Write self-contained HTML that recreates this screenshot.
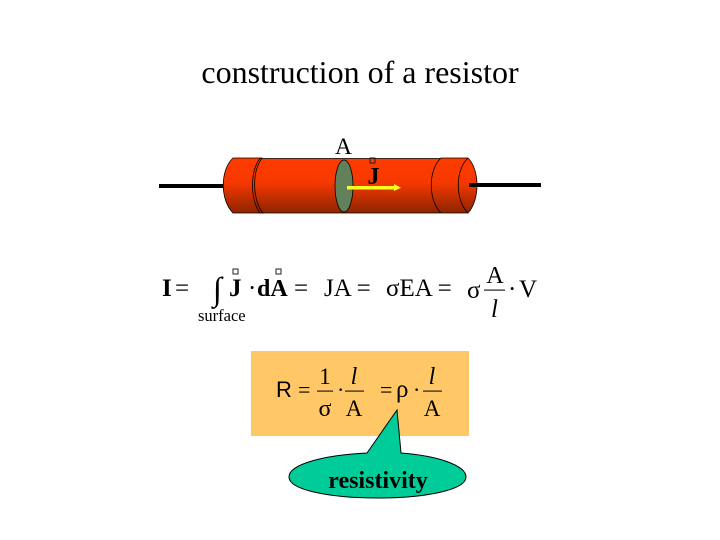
<!DOCTYPE html>
<html><head><meta charset="utf-8"><style>
html,body{margin:0;padding:0;background:#fff}
svg{display:block}
text{font-family:"Liberation Serif",serif;fill:#000}
.s{font-family:"Liberation Sans",sans-serif}
</style></head><body>
<svg width="720" height="540" viewBox="0 0 720 540" xmlns="http://www.w3.org/2000/svg">
<defs>
<linearGradient id="g" x1="0" y1="0" x2="0" y2="1">
<stop offset="0" stop-color="#ff3c00"/><stop offset=".45" stop-color="#f53800"/><stop offset="1" stop-color="#8c2400"/>
</linearGradient>
</defs>
<text x="360" y="83" font-size="32" text-anchor="middle">construction of a resistor</text>
<text x="343.500" y="154" font-size="23.500" text-anchor="middle">A</text>

<rect x="159" y="184" width="66" height="4" fill="#000"/>
<path d="M233 158H262C256 170 256 200 263 213H233C220 200 220 170 233 158Z" fill="url(#g)" stroke="#000" stroke-width=".8"/>
<path d="M260 158.500H440V213H260C250 200 250 170 260 158.500Z" fill="url(#g)" stroke="#000" stroke-width=".8"/>
<path d="M262 158.500C252 170 252 200 263 213" fill="none" stroke="#000" stroke-width=".8"/>
<path d="M441 158H468C480 170 480 200 468 213H441C428 200 428 170 441 158Z" fill="url(#g)" stroke="#000" stroke-width=".8"/>
<path d="M468 158C455 170 455 200 468 213" fill="none" stroke="#000" stroke-width=".8"/>
<rect x="469" y="183" width="72" height="4" fill="#000"/>
<ellipse cx="344" cy="186" rx="9" ry="26" fill="#62805a" stroke="#000" stroke-width=".8"/>
<rect x="370" y="158" width="5" height="5" fill="none" stroke="#222" stroke-width="1"/>
<text x="373.500" y="184" font-size="24" font-weight="bold" text-anchor="middle" fill="#300">J</text>
<rect x="347" y="186" width="48" height="3.500" fill="#ffff20"/>
<path d="M394 184L401 187.700L394 191Z" fill="#ffff20"/>

<text x="162" y="296" font-size="25" font-weight="bold">I</text>
<text x="175" y="296" font-size="25">=</text>
<text x="213" y="300" font-size="33" font-weight="normal">∫</text>
<rect x="233" y="269" width="5" height="5" fill="none" stroke="#222" stroke-width="1"/>
<rect x="276" y="269" width="5" height="5" fill="none" stroke="#222" stroke-width="1"/>
<text x="229" y="296" font-size="25" font-weight="bold">J</text>
<text x="248" y="296" font-size="25">·</text>
<text x="257" y="296" font-size="24" font-weight="bold">dA</text>
<text x="294" y="296" font-size="25">=</text>
<text x="198" y="321" font-size="16.500">surface</text>
<text x="324" y="296" font-size="25">JA =</text>
<text x="386" y="296" font-size="25">σEA =</text>
<text x="467" y="298" font-size="25">σ</text>
<text x="495" y="283" font-size="24" text-anchor="middle">A</text>
<rect x="484" y="289.500" width="21" height="1.200" fill="#222"/>
<text x="494.500" y="317" font-size="25" font-style="italic" text-anchor="middle">l</text>
<text x="508" y="297" font-size="25">·</text>
<text x="519" y="297" font-size="25">V</text>

<rect x="251" y="351" width="218" height="85" fill="#ffc766"/>
<text x="276" y="397" font-size="22" class="s">R</text>
<text x="298" y="397" font-size="22">=</text>
<text x="325" y="384" font-size="23" text-anchor="middle">1</text>
<rect x="317" y="390.500" width="16" height="1.200" fill="#222"/>
<text x="325" y="416" font-size="24" text-anchor="middle">σ</text>
<text x="337" y="397" font-size="22">·</text>
<text x="354" y="384" font-size="24" font-style="italic" text-anchor="middle">l</text>
<rect x="345" y="390.500" width="19" height="1.200" fill="#222"/>
<text x="354" y="416" font-size="23" text-anchor="middle">A</text>
<text x="380" y="397" font-size="22">=</text>
<text x="396" y="397" font-size="25">ρ</text>
<text x="413" y="397" font-size="22">·</text>
<text x="432" y="384" font-size="24" font-style="italic" text-anchor="middle">l</text>
<rect x="423" y="390.500" width="19" height="1.200" fill="#222"/>
<text x="432" y="416" font-size="23" text-anchor="middle">A</text>

<path d="M367 453L397 410L401 453C440 456 466 466 466 477C466 490 425 498 378 498C330 498 289 490 289 477C289 464 325 455 367 453Z" fill="#00cc99" stroke="#000" stroke-width="1"/>
<text x="378" y="488" font-size="24" font-weight="bold" text-anchor="middle" fill="#031">resistivity</text>
</svg>
</body></html>
